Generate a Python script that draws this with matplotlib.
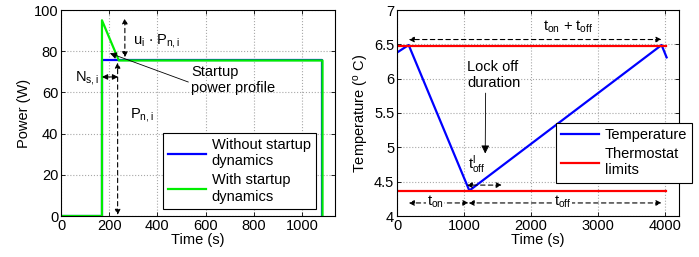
import matplotlib
matplotlib.use("Agg")
import matplotlib.pyplot as plt
from matplotlib.ticker import FormatStrFormatter

plt.rcParams['font.family'] = ['Liberation Sans', 'DejaVu Sans']
plt.rcParams['mathtext.default'] = 'regular'
FS = 10.5
plt.rcParams['font.size'] = FS

# Left panel data
t_no = [0, 170, 170, 1085, 1085]
p_no = [0, 0, 75.5, 75.5, 0]
t_with = [0, 170, 170, 240, 1085, 1085]
p_with = [0, 0, 95, 75.5, 75.5, 0]

# Right panel data
t_temp = [0, 174, 1080, 3950, 4025]
temp = [6.38, 6.49, 4.37, 6.49, 6.31]
t_lim = [0, 4015]
lim_hi = [6.48, 6.48]
lim_lo = [4.36, 4.36]

fig = plt.figure(figsize=(6.99, 2.57), dpi=100)
ax1 = fig.add_axes([61/699, 41/257, (335-61)/699, 206/257])
ax2 = fig.add_axes([397/699, 41/257, (679-397)/699, 206/257])

def style(ax):
    ax.grid(True, linestyle=':', color='#a8a8a8', linewidth=0.8)
    ax.tick_params(direction='in', top=True, right=True, length=3, width=0.6, pad=2,
                   labelsize=FS)
    for s in ax.spines.values():
        s.set_linewidth(0.8)

ax1.plot(t_no, p_no, color='#0000ff', lw=1.6, label='Without startup\ndynamics')
ax1.plot(t_with, p_with, color='#00ee00', lw=1.6, label='With startup\ndynamics')
ax1.set_xlim(0, 1137)
ax1.set_ylim(0, 100)
ax1.set_xticks([0, 200, 400, 600, 800, 1000])
ax1.set_yticks([0, 20, 40, 60, 80, 100])
ax1.set_xlabel('Time (s)', labelpad=0)
ax1.set_ylabel('Power (W)', labelpad=2)
style(ax1)

dash_arrow = dict(arrowstyle='<|-|>', linestyle=(0, (4, 3)), color='black', lw=0.8,
                  mutation_scale=8, shrinkA=0, shrinkB=0)
ax1.annotate('', xy=(265, 96), xytext=(265, 77), arrowprops=dash_arrow)
ax1.annotate('', xy=(235, 74.5), xytext=(235, 0.5), arrowprops=dash_arrow)
ax1.annotate('', xy=(170, 67.5), xytext=(237, 67.5),
             arrowprops=dict(arrowstyle='<|-|>', color='black', lw=0.8, mutation_scale=8,
                             shrinkA=0, shrinkB=0))
ax1.text(300, 85, r'u$_i$ $\cdot$ P$_{n,i}$', ha='left', va='center')
ax1.text(285, 49, r'P$_{n,i}$', ha='left', va='center')
ax1.text(57, 67, r'N$_{s,i}$', ha='left', va='center')
ax1.annotate('Startup\npower profile', xy=(203, 79), xytext=(540, 66),
             ha='left', va='center',
             arrowprops=dict(arrowstyle='-|>', color='black', lw=0.6, mutation_scale=10,
                             shrinkA=0, shrinkB=0, relpos=(0, 0.4)))

leg1 = ax1.legend(loc='upper left', bbox_to_anchor=(163/699, 1 - 133/257),
                  bbox_transform=fig.transFigure, fancybox=False, edgecolor='black',
                  framealpha=1, handlelength=2.6, handletextpad=0.4, borderpad=0.35,
                  labelspacing=0.35, fontsize=FS, borderaxespad=0)
leg1.get_frame().set_linewidth(0.8)

# Right panel
ax2.plot(t_temp, temp, color='#0000ff', lw=1.6, label='Temperature')
ax2.plot(t_lim, lim_hi, color='#ff0000', lw=1.6, label='Thermostat\nlimits')
ax2.plot(t_lim, lim_lo, color='#ff0000', lw=1.6)
ax2.set_xlim(0, 4210)
ax2.set_ylim(4, 7)
ax2.set_xticks([0, 1000, 2000, 3000, 4000])
ax2.set_yticks([4, 4.5, 5, 5.5, 6, 6.5, 7])
ax2.yaxis.set_major_formatter(FormatStrFormatter('%g'))
ax2.set_xlabel('Time (s)', labelpad=0)
ax2.set_ylabel(r'Temperature ($^o$ C)', labelpad=2)
style(ax2)

ax2.annotate('', xy=(174, 6.57), xytext=(3950, 6.57), arrowprops=dash_arrow)
ax2.text(2550, 6.76, r't$_{on}$ + t$_{off}$', ha='center', va='center')
ax2.annotate('', xy=(174, 4.19), xytext=(1068, 4.19), arrowprops=dash_arrow)
ax2.annotate('', xy=(1068, 4.19), xytext=(3950, 4.19), arrowprops=dash_arrow)
ax2.text(570, 4.2, r't$_{on}$', ha='center', va='center',
         bbox=dict(facecolor='white', edgecolor='none', pad=0.3))
ax2.text(2480, 4.2, r't$_{off}$', ha='center', va='center',
         bbox=dict(facecolor='white', edgecolor='none', pad=0.3))
ax2.annotate('', xy=(1040, 4.45), xytext=(1565, 4.45), arrowprops=dash_arrow)
ax2.text(1190, 4.76, r't$_{off}^{l}$', ha='center', va='center')
ax2.annotate('Lock off\nduration', xy=(1317, 4.91), xytext=(1045, 6.05),
             ha='left', va='center',
             arrowprops=dict(arrowstyle='-|>', color='black', lw=0.6, mutation_scale=12,
                             shrinkA=0, shrinkB=0, relpos=(0.35, 0)))

leg2 = ax2.legend(handles=ax2.get_lines()[:2], loc='upper left',
                  bbox_to_anchor=(556/699, 1 - 123/257),
                  bbox_transform=fig.transFigure, fancybox=False, edgecolor='black',
                  framealpha=1, handlelength=2.6, handletextpad=0.4, borderpad=0.35,
                  labelspacing=0.35, fontsize=FS, borderaxespad=0)
leg2.get_frame().set_linewidth(0.8)

fig.savefig('out.png', dpi=100)
